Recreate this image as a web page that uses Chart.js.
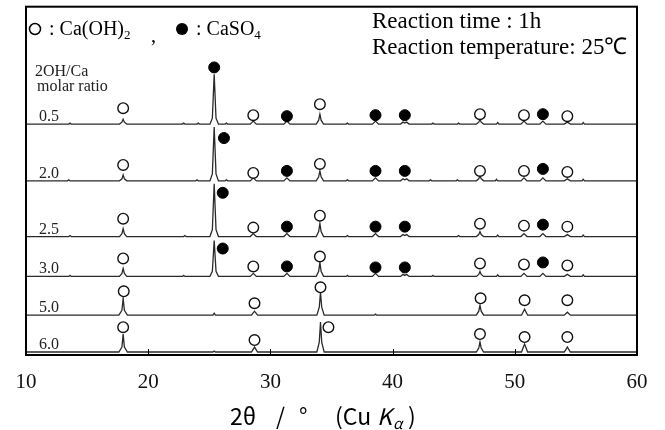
<!DOCTYPE html>
<html>
<head>
    <title>XRD patterns</title>
    <script src="https://cdn.jsdelivr.net/npm/chart.js"></script>
    <style>
body{
    margin: 0;
    background-color: #ffffff;
}
#wrap{
    width: 665px;
    height: 430px;
}
    </style>
</head>
<body>
    <div id="wrap">
        <canvas id="xrdChart" width="665" height="430"></canvas>
    </div>

    <script>
        // 2OH/Ca molar ratio of each pattern, top to bottom
        const ratios = ['0.5', '2.0', '2.5', '3.0', '5.0', '6.0'];
        // vertical offset of each pattern (a.u.)
        const offsets = [232, 175, 119, 79, 40, 3];
        const xTicks = [10, 20, 30, 40, 50, 60];

        // [2theta, intensity above baseline]
        const trace05 = [
            [10,0],[13.5,0],[13.6,1],[13.7,0],
            [17.65,0],[17.85,2],[17.95,5],[18.05,2],[18.25,0],
            [22.8,0],[22.9,1],[23.0,0],[24.0,0],[24.1,1],[24.2,0],
            [25.05,0],[25.25,6],[25.4,50],[25.55,6],[25.75,0],
            [26.3,0],[26.4,1],[26.5,0],
            [28.35,0],[28.6,3],[28.85,0],
            [31.1,0],[31.35,3],[31.6,0],
            [33.75,0],[33.95,4],[34.05,10],[34.15,4],[34.35,0],
            [36.2,0],[36.3,1],[36.4,0],
            [38.35,0],[38.6,3],[38.85,0],
            [40.65,0],[40.85,2],[41.0,1],[41.15,2],[41.35,0],
            [43.2,0],[43.3,1],[43.4,0],[45.3,0],[45.4,1],[45.5,0],
            [46.85,0],[47.05,2],[47.15,5],[47.25,2],[47.45,0],
            [48.5,0],[48.6,1.5],[48.7,0],
            [50.5,0],[50.75,3],[51.0,0],
            [52.05,0],[52.3,3],[52.55,0],
            [54.05,0],[54.3,2],[54.55,0],
            [55.5,0],[55.6,1.5],[55.7,0],[60,0]
        ];
        const trace20 = [
            [10,0],[13.4,0],[13.5,1],[13.6,0],
            [17.65,0],[17.85,2],[17.95,6],[18.05,2],[18.25,0],
            [23.9,0],[24.0,1],[24.1,0],
            [25.05,0],[25.25,7],[25.4,54],[25.55,7],[25.75,0],
            [26.3,0],[26.4,1],[26.5,0],
            [28.35,0],[28.6,3],[28.85,0],
            [31.1,0],[31.35,3],[31.6,0],
            [33.75,0],[33.95,4],[34.05,10],[34.15,4],[34.35,0],
            [36.2,0],[36.3,1],[36.4,0],
            [38.35,0],[38.6,3],[38.85,0],
            [40.65,0],[40.85,2],[41.0,1],[41.15,2],[41.35,0],
            [43.0,0],[43.1,1],[43.2,0],[45.2,0],[45.3,1],[45.4,0],
            [46.85,0],[47.05,2],[47.15,5],[47.25,2],[47.45,0],
            [48.4,0],[48.5,1.5],[48.6,0],
            [50.5,0],[50.75,3],[51.0,0],
            [52.05,0],[52.3,3],[52.55,0],
            [54.05,0],[54.3,2],[54.55,0],
            [55.5,0],[55.6,1.5],[55.7,0],[60,0]
        ];
        const trace25 = [
            [10,0],[13.5,0],[13.6,1],[13.7,0],
            [17.65,0],[17.85,3],[17.95,8],[18.05,3],[18.25,0],
            [22.9,0],[23.0,1],[23.1,0],
            [25.05,0],[25.25,7],[25.4,53],[25.55,7],[25.75,0],
            [28.35,0],[28.6,3],[28.85,0],
            [31.1,0],[31.35,3],[31.6,0],
            [33.75,0],[33.95,5],[34.05,13],[34.15,5],[34.35,0],
            [36.2,0],[36.3,1],[36.4,0],
            [38.35,0],[38.6,3],[38.85,0],
            [40.65,0],[40.85,2],[41.0,1],[41.15,2],[41.35,0],
            [45.3,0],[45.4,1],[45.5,0],
            [46.85,0],[47.05,2],[47.15,5],[47.25,2],[47.45,0],
            [48.5,0],[48.6,1.5],[48.7,0],
            [50.5,0],[50.75,3],[51.0,0],
            [52.05,0],[52.3,3],[52.55,0],
            [54.05,0],[54.3,2],[54.55,0],
            [55.5,0],[55.6,1.5],[55.7,0],[60,0]
        ];
        const trace30 = [
            [10,0],[13.5,0],[13.6,1],[13.7,0],
            [17.65,0],[17.85,3],[17.95,8],[18.05,3],[18.25,0],
            [22.8,0],[22.9,1],[23.0,0],
            [25.05,0],[25.25,5],[25.4,36],[25.55,5],[25.75,0],
            [28.35,0],[28.6,3],[28.85,0],
            [31.1,0],[31.35,3],[31.6,0],
            [33.75,0],[33.95,5],[34.05,14],[34.15,5],[34.35,0],
            [36.2,0],[36.3,1],[36.4,0],
            [38.35,0],[38.6,3],[38.85,0],
            [40.65,0],[40.85,2],[41.0,1],[41.15,2],[41.35,0],
            [43.2,0],[43.3,1],[43.4,0],
            [46.85,0],[47.05,2],[47.15,5],[47.25,2],[47.45,0],
            [48.5,0],[48.6,1.5],[48.7,0],
            [50.5,0],[50.75,3],[51.0,0],
            [52.05,0],[52.3,3],[52.55,0],
            [54.05,0],[54.3,2],[54.55,0],
            [55.5,0],[55.6,1.5],[55.7,0],[60,0]
        ];
        const trace50 = [
            [10,0],[17.6,0],[17.85,5],[17.95,17],[18.05,5],[18.3,0],
            [25.3,0],[25.4,2],[25.5,0],
            [28.45,0],[28.7,4],[28.95,0],
            [33.8,0],[34.0,8],[34.1,23],[34.2,8],[34.4,0],
            [38.5,0],[38.6,1],[38.7,0],
            [46.85,0],[47.05,4],[47.15,10],[47.25,4],[47.45,0],
            [50.55,0],[50.8,6],[51.05,0],
            [54.05,0],[54.3,3],[54.55,0],[60,0]
        ];
        const trace60 = [
            [10,0],[17.6,0],[17.85,5],[17.95,18],[18.05,5],[18.3,0],
            [25.3,0],[25.4,1],[25.5,0],
            [28.45,0],[28.7,5],[28.95,0],
            [33.8,0],[34.0,10],[34.1,30],[34.2,10],[34.4,0],
            [46.85,0],[47.05,4],[47.15,10],[47.25,4],[47.45,0],
            [50.55,0],[50.8,8],[51.05,0],
            [54.05,0],[54.3,5],[54.55,0],[60,0]
        ];
        const traces = [trace05, trace20, trace25, trace30, trace50, trace60];

        // peak markers [2theta, height in plot units]
        const caOH2Marks = [
            [17.95,248],[28.6,241],[34.05,252],[47.15,242],[50.75,241],[54.3,240],
            [17.95,191],[28.6,183],[34.05,192],[47.15,185],[50.75,185],[54.3,184],
            [17.95,137],[28.6,128],[34.05,140],[47.15,132],[50.75,130],[54.3,129],
            [17.95,97],[28.6,89],[34.05,99],[47.15,92],[50.75,91],[54.3,90],
            [18.0,64],[28.7,52],[34.1,68],[47.2,57],[50.8,55],[54.3,55],
            [17.95,28],[28.7,15],[34.75,28],[47.15,21],[50.8,18],[54.3,18]
        ];
        const caSO4Marks = [
            [25.4,289],[31.35,240],[38.6,241],[41.0,241],[52.3,242],
            [26.2,218],[31.35,185],[38.6,185],[41.0,185],[52.3,187],
            [26.1,163],[31.35,129],[38.6,129],[41.0,129],[52.3,131],
            [26.1,107],[31.35,89],[38.6,88],[41.0,88],[52.3,93]
        ];

        const serif = '"Liberation Serif", "Times New Roman", serif';

        const datasets = traces.map((t, i) => ({
            type: 'line',
            data: t.map(p => ({x: p[0], y: p[1] + offsets[i]})),
            borderColor: '#2a2a2a',
            borderWidth: 1.3,
            pointRadius: 0,
            tension: 0,
            fill: false,
            order: 2
        }));
        datasets.push({
            type: 'scatter',
            data: caOH2Marks.map(p => ({x: p[0], y: p[1]})),
            pointStyle: 'circle',
            pointRadius: 5.3,
            backgroundColor: '#ffffff',
            borderColor: '#111111',
            borderWidth: 1.4,
            order: 0
        });
        datasets.push({
            type: 'scatter',
            data: caSO4Marks.map(p => ({x: p[0], y: p[1]})),
            pointStyle: 'circle',
            pointRadius: 5.5,
            backgroundColor: '#000000',
            borderColor: '#000000',
            borderWidth: 1,
            order: 0
        });

        // frame, inward ticks and the text written on the plot
        const decorations = {
            id: 'decorations',
            afterDraw(chart) {
                const ctx = chart.ctx;
                const a = chart.chartArea;
                const xs = chart.scales.x;
                const ys = chart.scales.y;
                ctx.save();
                ctx.strokeStyle = '#000';
                ctx.lineWidth = 2;
                ctx.strokeRect(a.left, a.top, a.right - a.left, a.bottom - a.top);
                ctx.lineWidth = 1;
                xTicks.forEach(v => {
                    const px = Math.round(xs.getPixelForValue(v)) + 0.5;
                    ctx.beginPath();
                    ctx.moveTo(px, a.bottom);
                    ctx.lineTo(px, a.bottom - 6);
                    ctx.stroke();
                });

                ctx.fillStyle = '#222';
                ctx.textBaseline = 'alphabetic';
                ctx.font = '16px ' + serif;
                ratios.forEach((r, i) => {
                    ctx.fillText(r, 39, ys.getPixelForValue(offsets[i]) - 3);
                });
                ctx.fillText('2OH/Ca', 35, 76);
                ctx.fillText('molar ratio', 37, 91);

                // legend
                ctx.fillStyle = '#000';
                ctx.beginPath();
                ctx.arc(35, 29, 5.5, 0, Math.PI * 2);
                ctx.lineWidth = 1.5;
                ctx.stroke();
                ctx.font = '20px ' + serif;
                let x = 49;
                ctx.fillText(': Ca(OH)', x, 35);
                x += ctx.measureText(': Ca(OH)').width;
                ctx.font = '13px ' + serif;
                ctx.fillText('2', x, 39);
                ctx.font = '20px ' + serif;
                ctx.fillText(',', 151, 42);
                ctx.beginPath();
                ctx.arc(182, 29, 6, 0, Math.PI * 2);
                ctx.fill();
                x = 196;
                ctx.fillText(': CaSO', x, 35);
                x += ctx.measureText(': CaSO').width;
                ctx.font = '13px ' + serif;
                ctx.fillText('4', x, 39);

                ctx.font = '23px ' + serif;
                ctx.fillText('Reaction time : 1h', 372, 28);
                ctx.fillText('Reaction temperature: 25\u2103', 372, 54);

                // axis title
                const g = '"Noto Sans CJK JP", "DejaVu Sans", sans-serif';
                ctx.font = '23px ' + g;
                ctx.fillText('2\u03b8', 230, 425);
                ctx.fillText('/', 276, 425);
                ctx.fillText('\u00b0', 299, 425);
                ctx.fillText('(Cu', 335, 425);
                ctx.font = 'italic 23px ' + g;
                ctx.fillText('K', 377, 425);
                ctx.font = 'italic 15px ' + g;
                ctx.fillText('\u03b1', 393, 429);
                ctx.font = '23px ' + g;
                ctx.fillText(')', 408, 425);
                ctx.restore();
            }
        };

        new Chart(document.getElementById('xrdChart'), {
            data: {datasets: datasets},
            options: {
                responsive: false,
                animation: false,
                layout: {padding: {left: 26, right: 28, top: 5, bottom: 0}},
                plugins: {
                    legend: {display: false},
                    tooltip: {enabled: false}
                },
                scales: {
                    x: {
                        type: 'linear',
                        min: 10,
                        max: 60,
                        afterBuildTicks: axis => { axis.ticks = xTicks.map(v => ({value: v})); },
                        afterFit: axis => { axis.height = 75; },
                        grid: {display: false},
                        border: {display: false},
                        ticks: {
                            color: '#111',
                            padding: 7,
                            maxRotation: 0,
                            font: {family: serif, size: 21}
                        }
                    },
                    y: {
                        display: false,
                        min: 0,
                        max: 350
                    }
                }
            },
            plugins: [decorations]
        });
    </script>
</body>
</html>
